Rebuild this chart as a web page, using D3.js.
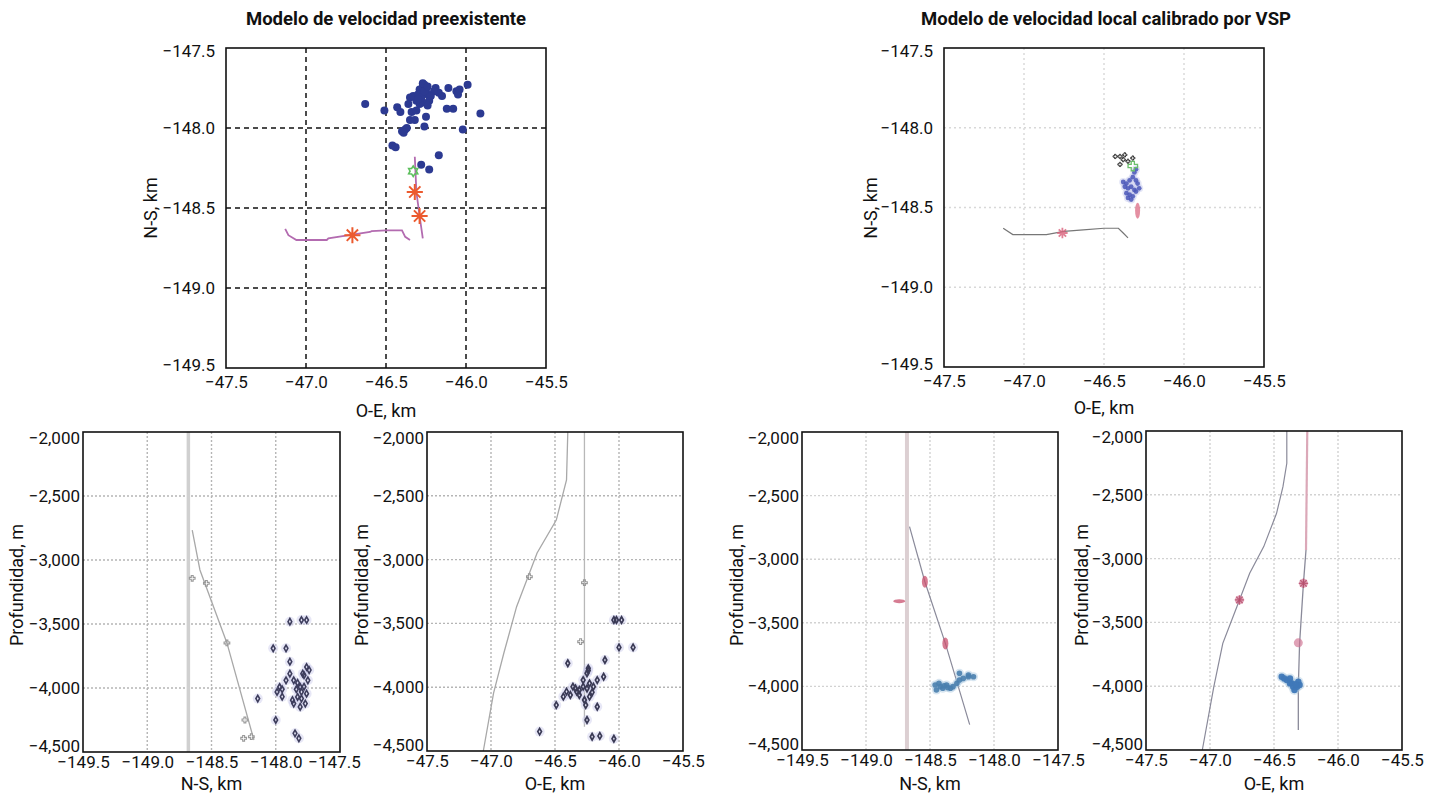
<!DOCTYPE html>
<html>
<head>
<meta charset="utf-8">
<script src="https://cdn.jsdelivr.net/npm/d3@7"></script>
<style>
  body { margin: 0; background: #fff; }
  svg { display: block; }
  text { font-family: Roboto, "Liberation Sans", sans-serif; fill: #111; }
</style>
</head>
<body>
<div id="chart"></div>
<script>
// tick values
const oeTicks = [-47.5, -47.0, -46.5, -46.0, -45.5];
const nsTicks = [-149.5, -149.0, -148.5, -148.0, -147.5];
const mapNsTicks = [-147.5, -148.0, -148.5, -149.0, -149.5];
const depthTicks = [-2000, -2500, -3000, -3500, -4000, -4500];

// ---------- preexisting model, map view [O-E, N-S] ----------
const preEvents = [
  [-46.63,-147.85],[-46.51,-147.89],[-46.43,-147.87],[-46.41,-147.90],[-46.46,-148.11],
  [-46.44,-148.12],[-46.40,-148.02],[-46.38,-148.01],[-46.37,-148.00],[-46.39,-148.03],
  [-46.35,-147.81],[-46.36,-147.85],[-46.34,-147.90],[-46.35,-147.95],[-46.32,-147.95],
  [-46.31,-147.89],[-46.29,-147.76],[-46.28,-147.78],[-46.27,-147.74],[-46.26,-147.73],
  [-46.25,-147.76],[-46.24,-147.79],[-46.23,-147.83],[-46.27,-147.84],[-46.29,-147.85],
  [-46.31,-147.83],[-46.33,-147.80],[-46.25,-147.93],[-46.26,-147.99],[-46.19,-147.75],
  [-46.17,-147.78],[-46.15,-147.80],[-46.11,-147.75],[-46.12,-147.88],[-46.08,-147.88],
  [-46.06,-147.77],[-46.05,-147.79],[-46.04,-147.76],[-45.99,-147.73],[-46.02,-148.01],
  [-45.91,-147.91],[-46.17,-148.17],[-46.28,-148.23],[-46.23,-148.26],[-46.20,-147.77],
  [-46.30,-147.79],[-46.24,-147.86],[-46.27,-147.72],[-46.22,-147.80],[-46.28,-147.81],
  [-46.26,-147.77],[-46.30,-147.82],[-46.24,-147.74]
];
const preWellV = [[-46.32,-148.18],[-46.31,-148.40],[-46.29,-148.55],[-46.27,-148.69]];
const preWellH = [[-47.13,-148.63],[-47.11,-148.67],[-47.06,-148.70],[-46.87,-148.70],[-46.86,-148.69],
  [-46.60,-148.65],[-46.59,-148.645],[-46.50,-148.64],[-46.40,-148.64],[-46.38,-148.68],[-46.35,-148.70]];
const preShots = [[-46.32,-148.40],[-46.29,-148.55],[-46.71,-148.67]];
const preReceiver = [[-46.33,-148.27]];

// ---------- VSP calibrated model, map view ----------
const vspDark = [[-46.43,-148.18],[-46.40,-148.18],[-46.37,-148.17],[-46.38,-148.20],[-46.40,-148.23],
  [-46.35,-148.21],[-46.32,-148.19]];
const vspBlue = [[-46.38,-148.34],[-46.36,-148.35],[-46.34,-148.33],[-46.32,-148.31],[-46.30,-148.33],
  [-46.29,-148.35],[-46.37,-148.37],[-46.35,-148.38],[-46.33,-148.37],[-46.31,-148.39],[-46.36,-148.41],
  [-46.34,-148.42],[-46.32,-148.43],[-46.35,-148.44],[-46.33,-148.45],[-46.30,-148.40],[-46.28,-148.38],
  [-46.31,-148.28],[-46.30,-148.26]];
const vspWellH = [[-47.13,-148.63],[-47.07,-148.67],[-46.86,-148.67],[-46.75,-148.65],[-46.63,-148.64],
  [-46.50,-148.63],[-46.41,-148.63],[-46.38,-148.66],[-46.35,-148.69]];
const vspShots = [[-46.76,-148.66],[-46.29,-148.52]];
const vspReceiver = [[-46.32,-148.24]];

// ---------- preexisting model, depth vs N-S ----------
const preNsWellV = [[-148.68,-2000],[-148.68,-4500]];
const preNsWellD = [[-148.65,-2766],[-148.59,-3078],[-148.38,-3648],[-148.17,-4406]];
const preNsMarks = [[-148.65,-3143],[-148.54,-3182],[-148.38,-3648],[-148.24,-4250],[-148.25,-4393],[-148.19,-4380]];
const preNsEvents = [
  [-148.02,-3690],[-147.92,-3690],[-147.89,-3794],[-147.89,-3482],[-147.80,-3469],[-147.76,-3469],
  [-147.79,-3888],[-147.76,-3836],[-147.75,-3940],[-147.81,-3992],[-147.83,-4070],[-147.80,-4083],
  [-147.76,-4044],[-147.86,-4122],[-147.81,-4148],[-147.77,-4122],[-147.97,-3992],[-147.99,-4031],
  [-147.95,-4068],[-148.14,-4083],[-148.00,-4250],[-147.85,-4354],[-147.82,-4393],[-147.92,-3940],
  [-147.86,-3940],[-147.89,-3888],[-147.95,-4010],[-147.84,-4010],[-147.78,-3990],[-147.87,-4095],
  [-147.78,-3900],[-147.80,-4030],[-147.74,-3860],[-147.83,-3960]
];

// ---------- preexisting model, depth vs O-E ----------
const preOeWellD = [[-46.40,-2000],[-46.41,-2376],[-46.49,-2690],[-46.64,-2948],[-46.80,-3369],
  [-46.90,-3734],[-46.98,-4047],[-47.06,-4500]];
const preOeWellV = [[-46.27,-2000],[-46.27,-4309]];
const preOeMarks = [[-46.70,-3134],[-46.27,-3181],[-46.30,-3643]];
const preOeEvents = [
  [-46.435,-4074],[-46.38,-4061],[-46.33,-4035],[-46.28,-3996],[-46.23,-3970],[-46.17,-3944],
  [-46.28,-3944],[-46.25,-3891],[-46.24,-3852],[-46.31,-4022],[-46.41,-4035],[-46.36,-3996],
  [-46.23,-4074],[-46.27,-4100],[-46.31,-4061],[-46.12,-3918],[-46.04,-3473],[-46.02,-3473],
  [-45.98,-3473],[-46.00,-3688],[-45.89,-3688],[-46.11,-3787],[-46.40,-3812],[-46.17,-4153],
  [-46.26,-4140],[-46.25,-4257],[-46.21,-4388],[-46.15,-4382],[-46.04,-4404],[-46.62,-4348],
  [-46.49,-4140],[-46.25,-4010],[-46.20,-3996],[-46.24,-3870],[-46.34,-4010],[-46.21,-4040]
];

// ---------- VSP model, depth vs N-S ----------
const vspNsWellV = [[-148.68,-2000],[-148.68,-4500]];
const vspNsWellD = [[-148.66,-2744],[-148.54,-3177],[-148.38,-3662],[-148.19,-4300]];
const vspNsShots = [[-148.54,-3177],[-148.74,-3330],[-148.38,-3662]];
const vspNsEvents = [
  [-148.46,-3989],[-148.42,-4002],[-148.37,-3989],[-148.32,-4002],[-148.29,-3976],[-148.27,-3950],
  [-148.24,-3937],[-148.20,-3924],[-148.16,-3924],[-148.45,-4028],[-148.40,-4015],[-148.34,-4015],
  [-148.27,-3897],[-148.20,-3910],[-148.43,-3976],[-148.36,-4010],[-148.39,-3995]
];

// ---------- VSP model, depth vs O-E ----------
const vspOeWellD = [[-46.40,-2000],[-46.40,-2253],[-46.43,-2436],[-46.48,-2645],[-46.58,-2906],
  [-46.69,-3115],[-46.79,-3377],[-46.90,-3664],[-46.97,-4004],[-47.06,-4500]];
const vspOeWellUp = [[-46.24,-2000],[-46.25,-2933]];
const vspOeWellLow = [[-46.25,-2933],[-46.27,-3194],[-46.30,-3664],[-46.31,-4004],[-46.31,-4343]];
const vspOeShots = [[-46.77,-3324],[-46.27,-3194],[-46.31,-3660]];
const vspOeEvents = [
  [-46.44,-3926],[-46.40,-3952],[-46.375,-3978],[-46.35,-4004],[-46.32,-4004],[-46.30,-3991],
  [-46.34,-4030],[-46.36,-3978],[-46.375,-3939],[-46.31,-3965],[-46.42,-3940],[-46.33,-3985]
];

const width = 1432, height = 799;
const svg = d3.select("#chart").append("svg")
  .attr("width", width).attr("height", height);

const fmt1 = d3.format(".1f");
const fmtDepth = d3.format(",.0f");

// asterisk shape for shot points (8 arms)
const asterisk = {
  draw(ctx, size) {
    const r = Math.sqrt(size) / 2;
    const d = r * 0.7;
    ctx.moveTo(-r, 0); ctx.lineTo(r, 0);
    ctx.moveTo(0, -r); ctx.lineTo(0, r);
    ctx.moveTo(-d, -d); ctx.lineTo(d, d);
    ctx.moveTo(-d, d); ctx.lineTo(d, -d);
  }
};

// six-point outline star for the receiver
const hexStar = {
  draw(ctx, size) {
    const R = Math.sqrt(size) / 2, r = R * 0.6;
    for (let i = 0; i < 12; i++) {
      const a = Math.PI / 6 * i - Math.PI / 2;
      const rr = i % 2 ? r : R;
      if (i === 0) ctx.moveTo(rr * Math.cos(a), rr * Math.sin(a));
      else ctx.lineTo(rr * Math.cos(a), rr * Math.sin(a));
    }
    ctx.closePath();
  }
};

// build one framed panel with grid, ticks and axis titles
function panel(o) {
  const g = svg.append("g");
  const x = d3.scaleLinear().domain(o.xDomain).range([o.l, o.r]);
  const y = d3.scaleLinear().domain(o.yDomain).range([o.b, o.t]);

  g.selectAll(".gx").data(o.xGrid).join("line")
    .attr("x1", d => x(d)).attr("x2", d => x(d))
    .attr("y1", o.t).attr("y2", o.b)
    .attr("stroke", o.gridColor).attr("stroke-width", o.gridWidth)
    .attr("stroke-dasharray", o.gridDash);
  g.selectAll(".gy").data(o.yGrid).join("line")
    .attr("y1", d => y(d)).attr("y2", d => y(d))
    .attr("x1", o.l).attr("x2", o.r)
    .attr("stroke", o.gridColor).attr("stroke-width", o.gridWidth)
    .attr("stroke-dasharray", o.gridDash);

  const xa = g.append("g").attr("transform", `translate(0,${o.b})`)
    .call(d3.axisBottom(x).tickValues(o.xTicks).tickSize(0).tickPadding(o.xPad).tickFormat(o.xFmt));
  const ya = g.append("g").attr("transform", `translate(${o.l},0)`)
    .call(d3.axisLeft(y).tickValues(o.yTicks).tickSize(0).tickPadding(o.yPad).tickFormat(o.yFmt));
  [xa, ya].forEach(a => {
    a.select(".domain").remove();
    a.selectAll("text").attr("font-size", 17).attr("fill", "#111")
      .style("font-family", "Roboto, sans-serif");
  });
  // end labels sit a little inside the frame
  const yTop = o.yDomain[1], yBot = o.yDomain[0];
  ya.selectAll("text").attr("transform", d =>
    d === yTop ? `translate(0,${o.endShift})` : d === yBot ? `translate(0,${-o.endShift})` : null);
  if (o.lastXShift) {
    const xLast = o.xDomain[1];
    xa.selectAll("text").attr("transform", d => d === xLast ? `translate(${o.lastXShift},0)` : null);
  }

  g.append("text")
    .attr("x", (o.l + o.r) / 2).attr("y", o.xTitleY)
    .attr("text-anchor", "middle").attr("font-size", 18)
    .text(o.xTitle);
  g.append("text")
    .attr("transform", `translate(${o.yTitleX},${o.yTitleCY}) rotate(-90)`)
    .attr("text-anchor", "middle").attr("dy", "0.35em").attr("font-size", 18)
    .text(o.yTitle);

  const plot = g.append("g");
  g.append("rect")
    .attr("x", o.l).attr("y", o.t).attr("width", o.r - o.l).attr("height", o.b - o.t)
    .attr("fill", "none").attr("stroke", "#111").attr("stroke-width", 1.6);
  return { plot, x, y };
}

function path(p, data, color, w, opacity) {
  const line = d3.line().x(d => p.x(d[0])).y(d => p.y(d[1]));
  p.plot.append("path").datum(data)
    .attr("d", line).attr("fill", "none")
    .attr("stroke", color).attr("stroke-width", w)
    .attr("stroke-opacity", opacity == null ? 1 : opacity);
}

function dots(p, data, r, color, opacity) {
  p.plot.append("g").selectAll("circle").data(data).join("circle")
    .attr("cx", d => p.x(d[0])).attr("cy", d => p.y(d[1]))
    .attr("r", r).attr("fill", color).attr("fill-opacity", opacity == null ? 1 : opacity);
}

function symbols(p, data, type, size, color, w, opacity) {
  p.plot.append("g").selectAll("path").data(data).join("path")
    .attr("transform", d => `translate(${p.x(d[0])},${p.y(d[1])})`)
    .attr("d", d3.symbol().type(type).size(size))
    .attr("fill", "none").attr("stroke", color).attr("stroke-width", w)
    .attr("stroke-opacity", opacity == null ? 1 : opacity);
}

// titles
svg.append("text").attr("x", 386).attr("y", 25).attr("text-anchor", "middle")
  .attr("font-size", 18.5).attr("font-weight", "bold").text("Modelo de velocidad preexistente");
svg.append("text").attr("x", 1106).attr("y", 25).attr("text-anchor", "middle")
  .attr("font-size", 18.5).attr("font-weight", "bold").text("Modelo de velocidad local calibrado por VSP");

const mapBase = {
  xDomain: [-47.5, -45.5], yDomain: [-149.5, -147.5],
  xTicks: oeTicks, yTicks: mapNsTicks,
  xGrid: [-47.0, -46.5, -46.0], yGrid: [-148.0, -148.5, -149.0],
  xFmt: fmt1, yFmt: fmt1, xPad: 8, yPad: 11, endShift: 3,
  xTitle: "O-E, km", yTitle: "N-S, km"
};

// ---- panel 1: preexisting map ----
const p1 = panel(Object.assign({}, mapBase, {
  l: 226, r: 546, t: 48, b: 368,
  gridColor: "#111", gridWidth: 1.5, gridDash: "5,4",
  xTitleY: 417, yTitleX: 151, yTitleCY: 208
}));
path(p1, preWellH, "#b36bb0", 1.8);
path(p1, preWellV, "#b36bb0", 1.8);
dots(p1, preEvents, 4, "#2c3a92");
symbols(p1, preReceiver, hexStar, 110, "#5cbf5c", 1.6);
symbols(p1, preShots, asterisk, 260, "#ec5a2e", 2);

// ---- panel 2: VSP map ----
const p2 = panel(Object.assign({}, mapBase, {
  l: 944, r: 1264, t: 48, b: 367,
  gridColor: "#d8d8d8", gridWidth: 1.4, gridDash: "2,3",
  xTitleY: 414, yTitleX: 871, yTitleCY: 208
}));
path(p2, vspWellH, "#777", 1.2);
symbols(p2, vspShots.slice(0, 1), asterisk, 110, "#d9607a", 1.8, 0.8);
p2.plot.append("g").selectAll("ellipse").data(vspShots.slice(1)).join("ellipse")
  .attr("cx", d => p2.x(d[0])).attr("cy", d => p2.y(d[1]))
  .attr("rx", 2.5).attr("ry", 8).attr("fill", "#d9607a").attr("fill-opacity", 0.7);
dots(p2, vspBlue, 4, "#b8bfe8", 0.4);
dots(p2, vspBlue, 2.4, "#4a57b8", 0.85);
symbols(p2, vspDark, d3.symbolCross, 10, "#333", 1);
symbols(p2, vspReceiver, d3.symbolCross, 50, "#6cbf6c", 1.3);

const depthBase = {
  yDomain: [-4500, -2000], yTicks: depthTicks, yGrid: [-2500, -3000, -3500, -4000],
  xFmt: fmt1, yFmt: fmtDepth, xPad: 4, yPad: 3, endShift: 6, yTitle: "Profundidad, m",
  gridWidth: 1.4, gridDash: "2,2", xTitleY: 790
};

// ---- panel 3: preexisting depth vs N-S ----
const p3 = panel(Object.assign({}, depthBase, {
  l: 83, r: 340, t: 432, b: 752, lastXShift: -6,
  xDomain: [-149.5, -147.5], xTicks: nsTicks, xGrid: [-149.0, -148.5, -148.0],
  gridColor: "#b5b5b5", xTitle: "N-S, km", yTitleX: 17, yTitleCY: 585
}));
path(p3, preNsWellV, "#d0d0d0", 3.5);
path(p3, preNsWellD, "#a8a8a8", 1.3);
symbols(p3, preNsMarks, d3.symbolCross, 18, "#999", 1.1);
dots(p3, preNsEvents, 5, "#c9c9ec", 0.45);
symbols(p3, preNsEvents, d3.symbolDiamond, 12, "#3d3d5c", 1.6);

// ---- panel 4: preexisting depth vs O-E ----
const p4 = panel(Object.assign({}, depthBase, {
  l: 427, r: 683, t: 432, b: 751,
  xDomain: [-47.5, -45.5], xTicks: oeTicks, xGrid: [-47.0, -46.5, -46.0],
  gridColor: "#b5b5b5", xTitle: "O-E, km", yTitleX: 362, yTitleCY: 585
}));
path(p4, preOeWellD, "#a8a8a8", 1.3);
path(p4, preOeWellV, "#b8b8b8", 1.3);
symbols(p4, preOeMarks, d3.symbolCross, 18, "#999", 1.1);
dots(p4, preOeEvents, 5, "#c9c9ec", 0.45);
symbols(p4, preOeEvents, d3.symbolDiamond, 12, "#3a3a55", 1.7);

// ---- panel 5: VSP depth vs N-S ----
const p5 = panel(Object.assign({}, depthBase, {
  l: 802, r: 1058, t: 432, b: 750,
  xDomain: [-149.5, -147.5], xTicks: nsTicks, xGrid: [-149.0, -148.5, -148.0],
  gridColor: "#d2d2d2", xTitle: "N-S, km", yTitleX: 737, yTitleCY: 585
}));
path(p5, vspNsWellV, "#dccfd2", 4);
path(p5, vspNsWellD, "#8a8a9a", 1.2);
p5.plot.append("g").selectAll("ellipse").data(vspNsShots).join("ellipse")
  .attr("cx", d => p5.x(d[0])).attr("cy", d => p5.y(d[1]))
  .attr("rx", (d, i) => i === 1 ? 6 : 3).attr("ry", (d, i) => i === 1 ? 2 : 6)
  .attr("fill", "#c8506e").attr("fill-opacity", 0.75);
dots(p5, vspNsEvents, 4.5, "#a8c8e0", 0.45);
dots(p5, vspNsEvents, 2.8, "#4a7fae", 0.9);

// ---- panel 6: VSP depth vs O-E ----
const p6 = panel(Object.assign({}, depthBase, {
  l: 1146, r: 1402, t: 431, b: 750,
  xDomain: [-47.5, -45.5], xTicks: oeTicks, xGrid: [-47.0, -46.5, -46.0],
  gridColor: "#d2d2d2", xTitle: "O-E, km", yTitleX: 1082, yTitleCY: 585
}));
path(p6, vspOeWellD, "#8a8a9a", 1.2);
path(p6, vspOeWellUp, "#dba8b8", 2.2);
path(p6, vspOeWellLow, "#8a8a9a", 1.3);
p6.plot.append("g").selectAll("circle").data(vspOeShots).join("circle")
  .attr("cx", d => p6.x(d[0])).attr("cy", d => p6.y(d[1]))
  .attr("r", 4.5).attr("fill", "#d07090").attr("fill-opacity", 0.65);
symbols(p6, vspOeShots.slice(0, 2), asterisk, 90, "#b04060", 1.2, 0.7);
dots(p6, vspOeEvents, 5, "#a8c8e0", 0.45);
dots(p6, vspOeEvents, 3.2, "#3f78b8", 0.95);
</script>
</body>
</html>
